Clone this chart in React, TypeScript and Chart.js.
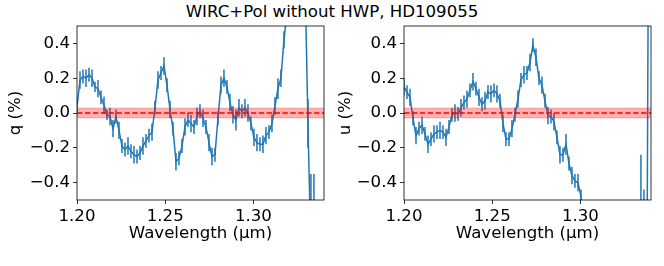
import React, { useEffect, useRef } from 'react';
import { Chart, registerables } from 'chart.js';
Chart.register(...registerables);

const TITLE = 'WIRC+Pol without HWP, HD109055';
const X_LABEL = 'Wavelength (\u03bcm)';
const X_TICKS = [1.2, 1.25, 1.3];
const Y_TICKS = [-0.4, -0.2, 0, 0.2, 0.4];
const X_RANGE = [1.2, 1.34];
const Y_RANGE = [-0.5, 0.5];
const BAND = [-0.028, 0.028];

const WAVELENGTH = [
  1.2000, 1.2017, 1.2034, 1.2051, 1.2068, 1.2085, 1.2102, 1.2119, 1.2136, 1.2153,
  1.2170, 1.2187, 1.2204, 1.2221, 1.2238, 1.2255, 1.2272, 1.2289, 1.2306, 1.2323,
  1.2340, 1.2357, 1.2374, 1.2391, 1.2408, 1.2425, 1.2442, 1.2459, 1.2476, 1.2493,
  1.2510, 1.2527, 1.2544, 1.2561, 1.2578, 1.2595, 1.2612, 1.2629, 1.2646, 1.2663,
  1.2680, 1.2697, 1.2714, 1.2731, 1.2748, 1.2765, 1.2782, 1.2799, 1.2816, 1.2833,
  1.2850, 1.2867, 1.2884, 1.2901, 1.2918, 1.2935, 1.2952, 1.2969, 1.2986, 1.3003,
  1.3020, 1.3037, 1.3054, 1.3071, 1.3088, 1.3105, 1.3122, 1.3139, 1.3156, 1.3173,
  1.3190, 1.3207, 1.3224, 1.3241, 1.3258, 1.3275, 1.3292, 1.3309, 1.3326, 1.3343,
  1.3360, 1.3377, 1.3394,
];

const Q_VALUES = [
  0.035, 0.19, 0.21, 0.20, 0.22, 0.20, 0.15, 0.14, 0.09, 0.045,
  -0.01, -0.02, -0.09, -0.02, -0.10, -0.19, -0.21, -0.19, -0.22, -0.24,
  -0.25, -0.23, -0.19, -0.16, -0.13, -0.11, 0.03, 0.19, 0.23, 0.27,
  0.16, 0.02, -0.09, -0.28, -0.26, -0.19, -0.08, -0.04, -0.06, -0.08,
  -0.02, 0.01, -0.03, -0.08, -0.17, -0.25, -0.24, -0.03, 0.16, 0.20,
  0.15, 0.06, -0.01, -0.04, 0.03, 0.01, 0.03, 0.00, -0.06, -0.14,
  -0.17, -0.18, -0.18, -0.13, -0.11, -0.06, 0.04, 0.14, 0.20, 0.42,
  0.58, 0.75, 0.90, 1.00, 1.05, 0.95, 0.80, -0.06, -0.80, -1.00,
  -1.40, -1.10, -1.30,
];

const Q_ERRORS = [
  0.03, 0.05, 0.04, 0.05, 0.04, 0.05, 0.03, 0.05, 0.04, 0.05,
  0.03, 0.05, 0.05, 0.04, 0.05, 0.04, 0.04, 0.05, 0.04, 0.05,
  0.04, 0.04, 0.05, 0.04, 0.04, 0.05, 0.04, 0.05, 0.04, 0.05,
  0.04, 0.05, 0.04, 0.05, 0.04, 0.04, 0.05, 0.04, 0.05, 0.04,
  0.05, 0.04, 0.05, 0.04, 0.05, 0.05, 0.04, 0.04, 0.05, 0.05,
  0.04, 0.05, 0.05, 0.06, 0.05, 0.04, 0.05, 0.05, 0.04, 0.05,
  0.05, 0.04, 0.05, 0.05, 0.04, 0.05, 0.05, 0.06, 0.05, 0.05,
  0.06, 0.06, 0.07, 0.07, 0.08, 0.09, 0.10, 0.14, 0.45, 0.65,
  0.30, 0.30, 0.40,
];

const U_VALUES = [
  0.15, 0.12, 0.09, -0.03, -0.13, -0.09, -0.07, -0.12, -0.18, -0.15,
  -0.12, -0.11, -0.10, -0.11, -0.14, -0.08, -0.01, 0.00, -0.005, 0.03,
  0.06, 0.08, 0.13, 0.18, 0.14, 0.09, 0.05, 0.07, 0.12, 0.11,
  0.13, 0.11, 0.07, -0.06, -0.15, -0.15, -0.09, -0.01, 0.08, 0.19,
  0.22, 0.23, 0.29, 0.39, 0.32, 0.20, 0.16, 0.07, -0.015, -0.02,
  -0.05, -0.14, -0.24, -0.24, -0.18, -0.29, -0.36, -0.39, -0.40, -0.48,
  -0.62, -0.70, -0.85, -0.90, -1.00, -1.10, -1.00, -1.20, -1.10, -1.00,
  -1.30, -1.20, -1.10, -1.40, -1.20, -1.00, -1.30, -1.10, -0.90, -0.62,
  -0.70, -0.95, 3.00,
];

const U_ERRORS = [
  0.05, 0.04, 0.05, 0.04, 0.05, 0.04, 0.05, 0.04, 0.05, 0.04,
  0.05, 0.04, 0.05, 0.04, 0.05, 0.04, 0.04, 0.05, 0.04, 0.05,
  0.04, 0.05, 0.04, 0.05, 0.04, 0.05, 0.04, 0.05, 0.04, 0.05,
  0.04, 0.05, 0.04, 0.05, 0.04, 0.04, 0.05, 0.04, 0.05, 0.04,
  0.05, 0.04, 0.05, 0.04, 0.05, 0.04, 0.05, 0.04, 0.05, 0.04,
  0.05, 0.04, 0.05, 0.04, 0.06, 0.04, 0.05, 0.04, 0.05, 0.04,
  0.10, 0.10, 0.10, 0.10, 0.10, 0.10, 0.10, 0.10, 0.10, 0.10,
  0.10, 0.10, 0.10, 0.10, 0.10, 0.10, 0.10, 0.10, 0.10, 0.38,
  0.26, 0.20, 0.50,
];

const FONT = "'DejaVu Sans', sans-serif";
const FONT_SIZE = 16.6;
const BLUE = '#1f77b4';

const errorBarPlugin = {
  id: 'errorBars',
  beforeDatasetDraw(chart: any, args: any, opts: any) {
    if (!opts || args.index !== opts.datasetIndex) return;
    const { ctx, chartArea, scales } = chart;
    const ds = chart.data.datasets[args.index];
    ctx.save();
    ctx.beginPath();
    ctx.rect(chartArea.left, chartArea.top, chartArea.right - chartArea.left, chartArea.bottom - chartArea.top);
    ctx.clip();
    ctx.strokeStyle = BLUE;
    ctx.lineWidth = 1.5;
    ctx.beginPath();
    ds.data.forEach((p: any, i: number) => {
      const e = opts.errors[i];
      const x = scales.x.getPixelForValue(p.x);
      ctx.moveTo(x, scales.y.getPixelForValue(p.y - e));
      ctx.lineTo(x, scales.y.getPixelForValue(p.y + e));
    });
    ctx.stroke();
    ctx.restore();
  },
};

const framePlugin = {
  id: 'frame',
  afterDraw(chart: any) {
    const { ctx, chartArea: a } = chart;
    ctx.save();
    ctx.strokeStyle = '#000';
    ctx.lineWidth = 0.8;
    ctx.strokeRect(a.left, a.top, a.right - a.left, a.bottom - a.top);
    ctx.restore();
  },
};

const fmtY = (v: number) => {
  const s = Math.abs(v).toFixed(1);
  return v < -1e-9 ? '\u2212' + s : s;
};

type PanelProps = {
  values: number[];
  errors: number[];
  yLabel: string;
  yAxisWidth: number;
  padRight: number;
  yTitlePad: number;
};

function Panel({ values, errors, yLabel, yAxisWidth, padRight, yTitlePad }: PanelProps) {
  const ref = useRef<HTMLCanvasElement | null>(null);
  useEffect(() => {
    if (!ref.current) return;
    const points = WAVELENGTH.map((w, i) => ({ x: w, y: values[i] }));
    const chart = new Chart(ref.current, {
      type: 'line',
      data: {
        datasets: [
          {
            data: [{ x: X_RANGE[0], y: BAND[1] }, { x: X_RANGE[1], y: BAND[1] }],
            borderColor: 'rgba(255,0,0,0.3)',
            backgroundColor: 'rgba(255,0,0,0.3)',
            borderWidth: 1,
            pointRadius: 0,
            fill: '+1',
          },
          {
            data: [{ x: X_RANGE[0], y: BAND[0] }, { x: X_RANGE[1], y: BAND[0] }],
            borderColor: 'rgba(255,0,0,0.3)',
            borderWidth: 1,
            pointRadius: 0,
            fill: false,
          },
          {
            data: [{ x: X_RANGE[0], y: 0 }, { x: X_RANGE[1], y: 0 }],
            borderColor: '#ff0000',
            borderWidth: 1.5,
            borderDash: [5.5, 2.4],
            pointRadius: 0,
            fill: false,
          },
          {
            data: points,
            borderColor: BLUE,
            borderWidth: 1.5,
            pointRadius: 0,
            fill: false,
            tension: 0,
          },
        ],
      } as any,
      options: {
        animation: false,
        responsive: false,
        events: [],
        layout: { padding: { left: 0, right: padRight, top: 26, bottom: 22 } },
        plugins: {
          legend: { display: false },
          tooltip: { enabled: false },
          errorBars: { datasetIndex: 3, errors },
        } as any,
        scales: {
          x: {
            type: 'linear',
            min: X_RANGE[0],
            max: X_RANGE[1],
            afterBuildTicks: (s: any) => { s.ticks = X_TICKS.map((v) => ({ value: v })); },
            afterFit: (s: any) => { s.height = 44; },
            grid: { drawOnChartArea: false, drawTicks: true, tickLength: 4, tickColor: '#000', lineWidth: 0.8 },
            border: { display: false },
            ticks: {
              autoSkip: false, maxRotation: 0, padding: 3, color: '#000',
              font: { family: FONT, size: FONT_SIZE },
              callback: (v: any) => Number(v).toFixed(2),
            },
            title: { display: true, text: X_LABEL, color: '#000', font: { family: FONT, size: FONT_SIZE }, padding: { top: 0, bottom: 0 } },
          },
          y: {
            type: 'linear',
            min: Y_RANGE[0],
            max: Y_RANGE[1],
            afterBuildTicks: (s: any) => { s.ticks = Y_TICKS.map((v) => ({ value: v })); },
            afterFit: (s: any) => { s.width = yAxisWidth; },
            grid: { drawOnChartArea: false, drawTicks: true, tickLength: 4, tickColor: '#000', lineWidth: 0.8 },
            border: { display: false },
            ticks: {
              autoSkip: false, padding: 3, color: '#000',
              font: { family: FONT, size: FONT_SIZE },
              callback: (v: any) => fmtY(Number(v)),
            },
            title: { display: true, text: yLabel, color: '#000', font: { family: FONT, size: FONT_SIZE }, padding: { top: yTitlePad, bottom: 0 } },
          },
        },
      } as any,
      plugins: [errorBarPlugin, framePlugin],
    });
    return () => chart.destroy();
  }, [values, errors, yLabel, yAxisWidth, padRight, yTitlePad]);
  return <canvas ref={ref} width={332} height={266} style={{ width: 332, height: 266, display: 'block' }} />;
}

export default function App() {
  return (
    <div style={{ position: 'absolute', left: 0, top: 0, width: 664, height: 266, background: '#fff', overflow: 'hidden' }}>
      <div style={{ position: 'absolute', left: 0, top: 2, width: 664, textAlign: 'center', fontFamily: FONT, fontSize: FONT_SIZE, lineHeight: '20px', color: '#000' }}>
        {TITLE}
      </div>
      <div style={{ position: 'absolute', left: 0, top: 0 }}>
        <Panel values={Q_VALUES} errors={Q_ERRORS} yLabel="q (%)" yAxisWidth={77} padRight={8} yTitlePad={6} />
      </div>
      <div style={{ position: 'absolute', left: 332, top: 0 }}>
        <Panel values={U_VALUES} errors={U_ERRORS} yLabel="u (%)" yAxisWidth={72} padRight={13} yTitlePad={4} />
      </div>
    </div>
  );
}
